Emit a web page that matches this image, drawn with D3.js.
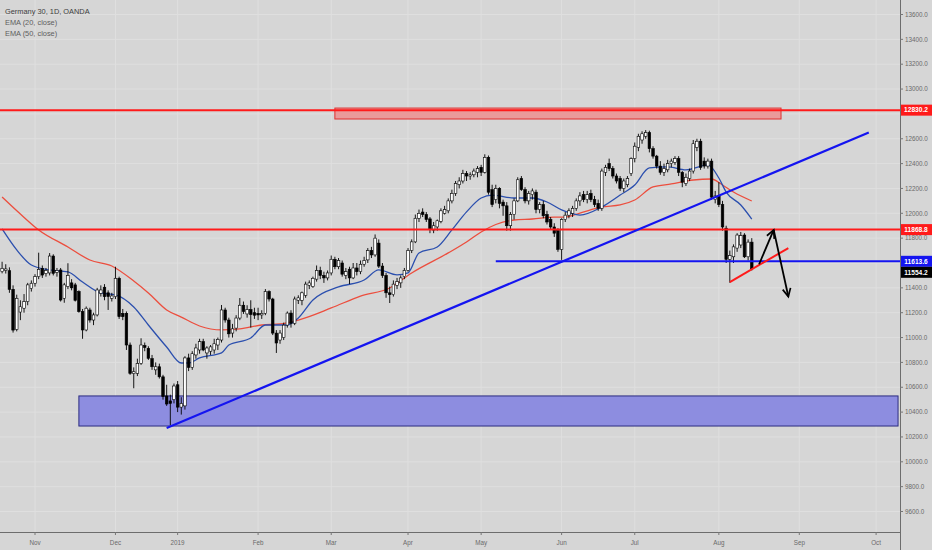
<!DOCTYPE html>
<html><head><meta charset="utf-8">
<script src="https://cdn.jsdelivr.net/npm/d3@7"></script>
<style>
html,body{margin:0;padding:0;background:#d6d6d6;}
svg{display:block;font-family:"Liberation Sans",Arial,sans-serif;}
</style>
</head><body>
<svg id="chart" width="932" height="550"></svg>
<script>
// ---------- DATA ----------
const titleLines = ["Germany 30, 1D, OANDA", "EMA (20, close)", "EMA (50, close)"];
const priceTicks = [9600,9800,10000,10200,10400,10600,10800,11000,11200,11400,11600,11800,12000,12200,12400,12600,12800,13000,13200,13400,13600];
const monthTicks = [["2018-11-01","Nov"],["2018-12-03","Dec"],["2019-01-02","2019"],["2019-02-01","Feb"],["2019-03-01","Mar"],["2019-04-01","Apr"],["2019-05-02","May"],["2019-06-03","Jun"],["2019-07-01","Jul"],["2019-08-01","Aug"],["2019-09-02","Sep"],["2019-10-01","Oct"]];
const calendarStart = "2018-10-19", calendarEnd = "2019-10-10";
const holidays = ["2018-12-24","2018-12-25","2018-12-26","2018-12-31","2019-01-01","2019-04-19","2019-04-22","2019-05-01"];

// date, open, high, low, close
const ohlc = [
["2018-10-19",11530,11610,11517,11557],["2018-10-22",11540,11590,11515,11552],["2018-10-23",11538,11565,11360,11388],
["2018-10-24",11388,11420,11040,11060],["2018-10-25",11065,11345,11050,11316],["2018-10-26",11205,11300,11140,11248],
["2018-10-29",11236,11350,11200,11289],["2018-10-30",11289,11440,11260,11424],["2018-10-31",11395,11460,11370,11437],
["2018-11-01",11437,11510,11410,11490],["2018-11-02",11490,11683,11470,11549],["2018-11-05",11557,11580,11480,11503],
["2018-11-06",11515,11560,11490,11540],["2018-11-07",11520,11680,11500,11656],["2018-11-08",11656,11670,11500,11517],
["2018-11-09",11525,11560,11490,11540],["2018-11-12",11544,11560,11290,11302],["2018-11-13",11316,11440,11280,11424],
["2018-11-14",11410,11598,11390,11500],["2018-11-15",11440,11470,11380,11400],["2018-11-16",11424,11440,11290,11300],
["2018-11-19",11370,11380,11200,11209],["2018-11-20",11209,11230,10990,11061],["2018-11-21",11061,11250,11050,11236],
["2018-11-22",11222,11240,11120,11141],["2018-11-23",11141,11200,11100,11182],["2018-11-26",11182,11400,11170,11383],
["2018-11-27",11356,11420,11330,11383],["2018-11-28",11405,11430,11300,11329],["2018-11-29",11360,11380,11222,11330],
["2018-11-30",11316,11360,11290,11335],["2018-12-03",11329,11570,11310,11477],["2018-12-04",11477,11490,11150,11168],
["2018-12-05",11195,11230,11140,11168],["2018-12-06",11195,11210,10900,10940],["2018-12-07",10940,10960,10700,10712],
["2018-12-10",10710,10760,10592,10725],["2018-12-11",10712,10830,10690,10792],["2018-12-12",10792,10994,10780,10940],
["2018-12-13",10935,10960,10890,10920],["2018-12-14",10913,10930,10820,10833],["2018-12-17",10830,10860,10740,10765],
["2018-12-18",10740,10800,10700,10765],["2018-12-19",10765,10790,10670,10684],["2018-12-20",10684,10700,10500,10524],
["2018-12-21",10530,10620,10450,10465],["2018-12-27",10490,10540,10296,10470],["2018-12-28",10500,10630,10470,10610],
["2019-01-02",10620,10650,10400,10440],["2019-01-03",10440,10520,10380,10470],["2019-01-04",10450,10850,10420,10836],
["2019-01-07",10836,10870,10730,10760],["2019-01-08",10760,10890,10740,10870],["2019-01-09",10860,10950,10830,10916],
["2019-01-10",10900,10990,10870,10967],["2019-01-11",10967,10990,10890,10900],["2019-01-14",10876,10930,10830,10916],
["2019-01-15",10890,10940,10860,10925],["2019-01-16",10900,10990,10870,10950],["2019-01-17",10940,11000,10900,10985],
["2019-01-18",10980,11262,10960,11222],["2019-01-21",11222,11240,11120,11141],["2019-01-22",11141,11160,11000,11030],
["2019-01-23",11036,11110,11000,11070],["2019-01-24",11076,11180,11050,11157],["2019-01-25",11157,11318,11140,11260],
["2019-01-28",11260,11290,11190,11210],["2019-01-29",11190,11260,11160,11225],["2019-01-30",11225,11300,11080,11185],
["2019-01-31",11200,11240,11150,11180],["2019-02-01",11195,11240,11140,11182],["2019-02-04",11182,11220,11150,11195],
["2019-02-05",11195,11390,11180,11370],["2019-02-06",11370,11380,11290,11310],["2019-02-07",11310,11320,11020,11036],
["2019-02-08",11036,11060,10876,10956],["2019-02-11",10980,11060,10950,11036],["2019-02-12",11000,11120,10980,11100],
["2019-02-13",11100,11210,11080,11197],["2019-02-14",11197,11220,11080,11115],["2019-02-15",11115,11330,11100,11310],
["2019-02-18",11300,11340,11270,11320],["2019-02-19",11300,11370,11260,11360],["2019-02-20",11340,11450,11320,11430],
["2019-02-21",11420,11460,11390,11440],["2019-02-22",11410,11490,11400,11477],["2019-02-25",11470,11580,11450,11540],
["2019-02-26",11540,11570,11470,11500],["2019-02-27",11500,11530,11440,11480],["2019-02-28",11480,11540,11460,11520],
["2019-03-01",11520,11660,11500,11630],["2019-03-04",11630,11650,11550,11570],["2019-03-05",11570,11640,11550,11620],
["2019-03-06",11600,11620,11490,11510],["2019-03-07",11500,11560,11470,11530],["2019-03-08",11550,11570,11430,11480],
["2019-03-11",11480,11600,11470,11560],["2019-03-12",11560,11600,11500,11530],["2019-03-13",11530,11620,11510,11590],
["2019-03-14",11590,11650,11570,11620],["2019-03-15",11625,11720,11600,11700],["2019-03-18",11700,11730,11640,11665],
["2019-03-19",11665,11830,11650,11800],["2019-03-20",11760,11790,11560,11575],["2019-03-21",11575,11600,11480,11500],
["2019-03-22",11500,11520,11320,11360],["2019-03-25",11360,11410,11278,11345],["2019-03-26",11345,11460,11330,11430],
["2019-03-27",11420,11480,11390,11450],["2019-03-28",11440,11500,11400,11480],["2019-03-29",11490,11560,11470,11540],
["2019-04-01",11540,11720,11530,11700],["2019-04-02",11700,11790,11680,11770],["2019-04-03",11770,11990,11760,11960],
["2019-04-04",11960,12030,11930,12000],["2019-04-05",12010,12040,11970,11990],["2019-04-08",11990,12010,11930,11950],
["2019-04-09",11955,11970,11840,11870],["2019-04-10",11865,11930,11840,11900],["2019-04-11",11890,11950,11860,11940],
["2019-04-12",11935,12040,11920,12020],["2019-04-15",12000,12060,11990,12030],["2019-04-16",12020,12120,12000,12100],
["2019-04-17",12100,12190,12080,12160],["2019-04-18",12160,12260,12140,12240],["2019-04-23",12230,12290,12200,12260],
["2019-04-24",12260,12350,12240,12320],["2019-04-25",12320,12340,12260,12300],["2019-04-26",12300,12330,12270,12310],
["2019-04-29",12310,12360,12290,12340],["2019-04-30",12330,12380,12290,12360],["2019-05-02",12370,12390,12300,12330],
["2019-05-03",12330,12475,12320,12450],["2019-05-06",12450,12465,12150,12170],["2019-05-07",12190,12230,12050,12070],
["2019-05-08",12110,12230,12080,12200],["2019-05-09",12200,12210,12040,12080],["2019-05-10",12090,12110,11980,12060],
["2019-05-13",12060,12090,11860,11900],["2019-05-14",11900,12010,11860,11990],["2019-05-15",11990,12120,11950,12100],
["2019-05-16",12100,12290,12090,12270],["2019-05-17",12280,12300,12180,12190],["2019-05-20",12190,12210,12080,12100],
["2019-05-21",12100,12180,12070,12160],["2019-05-22",12150,12200,12110,12180],["2019-05-23",12170,12190,12000,12030],
["2019-05-24",12030,12090,12000,12070],["2019-05-27",12070,12100,11960,11980],["2019-05-28",11990,12020,11910,11930],
["2019-05-29",11950,11970,11870,11890],["2019-05-30",11890,11920,11810,11840],["2019-05-31",11860,11880,11690,11710],
["2019-06-03",11710,11960,11625,11950],["2019-06-04",11950,12010,11930,11985],["2019-06-05",11985,12040,11960,12020],
["2019-06-06",12000,12060,11970,12040],["2019-06-07",12040,12120,12020,12100],["2019-06-10",12100,12170,12060,12140],
["2019-06-11",12150,12180,12090,12110],["2019-06-12",12110,12180,12080,12150],["2019-06-13",12160,12190,12090,12110],
["2019-06-14",12110,12140,12050,12070],["2019-06-17",12080,12110,12020,12040],["2019-06-18",12040,12360,12020,12340],
["2019-06-19",12330,12390,12300,12370],["2019-06-20",12400,12440,12340,12360],["2019-06-21",12360,12380,12280,12300],
["2019-06-24",12300,12320,12240,12260],["2019-06-25",12280,12300,12180,12200],["2019-06-26",12200,12280,12170,12260],
["2019-06-27",12230,12300,12210,12280],["2019-06-28",12320,12450,12300,12440],["2019-07-01",12440,12570,12410,12540],
["2019-07-02",12530,12640,12500,12620],["2019-07-03",12590,12660,12560,12640],["2019-07-04",12620,12670,12600,12650],
["2019-07-05",12650,12665,12490,12520],["2019-07-08",12520,12540,12440,12460],["2019-07-09",12460,12470,12360,12380],
["2019-07-10",12380,12420,12310,12330],["2019-07-11",12330,12400,12300,12360],["2019-07-12",12350,12430,12330,12400],
["2019-07-15",12400,12440,12370,12420],["2019-07-16",12410,12460,12390,12440],["2019-07-17",12440,12460,12300,12330],
["2019-07-18",12330,12340,12210,12250],["2019-07-19",12240,12320,12220,12290],["2019-07-22",12280,12360,12260,12340],
["2019-07-23",12340,12590,12320,12560],["2019-07-24",12530,12600,12500,12580],["2019-07-25",12580,12600,12350,12370],
["2019-07-26",12420,12450,12360,12380],["2019-07-29",12380,12440,12360,12420],["2019-07-30",12420,12440,12110,12130],
["2019-07-31",12110,12180,12080,12140],["2019-08-01",12140,12250,12050,12070],["2019-08-02",12070,12100,11860,11890],
["2019-08-05",11880,11900,11600,11630],["2019-08-06",11630,11700,11441,11660],["2019-08-07",11650,11750,11600,11730],
["2019-08-08",11720,11840,11690,11825],["2019-08-09",11745,11850,11720,11820],["2019-08-12",11825,11840,11640,11650],
["2019-08-13",11650,11790,11620,11768],["2019-08-14",11768,11800,11540,11554]
];

// EMA values
const ema20 = [["2018-10-19",11874],["2018-10-25",11705],["2018-10-31",11584],["2018-11-07",11544],["2018-11-14",11528],
["2018-11-20",11447],["2018-11-27",11359],["2018-12-03",11343],["2018-12-10",11246],["2018-12-14",11101],["2018-12-21",10924],
["2019-01-03",10795],["2019-01-07",10795],["2019-01-10",10836],["2019-01-18",10876],["2019-01-22",10940],["2019-01-30",10996],
["2019-02-05",11101],["2019-02-13",11101],["2019-02-18",11157],["2019-02-22",11302],["2019-03-05",11407],["2019-03-14",11463],
["2019-03-20",11544],["2019-03-27",11504],["2019-04-01",11520],["2019-04-04",11681],["2019-04-11",11729],["2019-04-17",11866],
["2019-04-25",12011],["2019-05-02",12123],["2019-05-07",12147],["2019-05-15",12123],["2019-05-22",12123],["2019-05-28",12091],
["2019-06-03",12027],["2019-06-10",11986],["2019-06-18",12051],["2019-06-25",12147],["2019-07-01",12228],["2019-07-05",12365],
["2019-07-12",12373],["2019-07-19",12349],["2019-07-29",12389],["2019-08-01",12284],["2019-08-05",12171],["2019-08-09",12067],
["2019-08-14",11954]];
const ema50 = [["2018-10-19",12131],["2018-10-26",11994],["2018-11-02",11866],["2018-11-14",11729],["2018-11-22",11624],
["2018-11-30",11576],["2018-12-10",11455],["2018-12-14",11359],["2018-12-21",11222],["2019-01-03",11165],["2019-01-10",11093],
["2019-01-18",11061],["2019-01-25",11069],["2019-02-04",11101],["2019-02-11",11109],["2019-02-18",11141],["2019-03-01",11238],
["2019-03-13",11334],["2019-03-25",11399],["2019-04-02",11520],["2019-04-16",11681],["2019-04-25",11769],["2019-05-02",11850],
["2019-05-08",11910],["2019-05-15",11946],["2019-05-22",11954],["2019-05-30",11970],["2019-06-04",11970],["2019-06-10",12002],
["2019-06-18",12051],["2019-06-25",12067],["2019-07-01",12107],["2019-07-08",12212],["2019-07-15",12236],["2019-07-23",12268],
["2019-07-30",12276],["2019-08-02",12228],["2019-08-07",12171],["2019-08-14",12099]];

// drawings
const redLevels = [12830.2, 11868.8];
const blueLevel = {from: "2019-05-08", price: 11613.6};
const lastPrice = 11554.2;
const redZone = {from: "2019-03-04", to: "2019-08-26", top: 12847, bottom: 12759};
const blueZone = {from: "2018-11-19", to: "2019-10-09", top: 10530, bottom: 10288};
const blueTrend = [["2018-12-21", 10272], ["2019-09-27", 12650]];
const redTrend = [["2019-08-06", 11447], ["2019-08-28", 11720]];
const arrowPts = [["2019-08-16", 11590], ["2019-08-22", 11866], ["2019-08-28", 11330]];

// ---------- CHART ----------
const W = 932, H = 550, plotR = 900, plotB = 532;
const fmt = d3.timeFormat("%Y-%m-%d"), parse = d3.timeParse("%Y-%m-%d");
const calendar = d3.timeDay.range(parse(calendarStart), d3.timeDay.offset(parse(calendarEnd), 1))
  .filter(d => d.getDay() !== 0 && d.getDay() !== 6)
  .map(fmt).filter(s => !holidays.includes(s));

const x = d3.scalePoint().domain(calendar).range([2.1, 901.7]);
const y = d3.scaleLinear().domain([9600, 13600]).range([511.5, 14.5]);

const svg = d3.select("#chart");
svg.append("rect").attr("width", W).attr("height", H).attr("fill", "#d6d6d6");
const defs = svg.append("defs");
defs.append("clipPath").attr("id", "clip")
  .append("rect").attr("x", 0).attr("y", 0).attr("width", plotR).attr("height", plotB);
defs.append("marker").attr("id", "ah").attr("viewBox", "-10 -6 12 12")
  .attr("markerWidth", 12).attr("markerHeight", 12).attr("markerUnits", "userSpaceOnUse")
  .attr("refX", 0).attr("refY", 0).attr("orient", "auto")
  .append("path").attr("d", "M-8,-4 L0,0 L-8,4").attr("fill", "none")
  .attr("stroke", "#000").attr("stroke-width", 1.7);

const plot = svg.append("g").attr("clip-path", "url(#clip)");

// grid
plot.append("g").selectAll("line").data(priceTicks).join("line")
  .attr("x1", 0).attr("x2", plotR).attr("y1", d => y(d)).attr("y2", d => y(d))
  .attr("stroke", "#dfdfdf").attr("stroke-width", 1);
plot.append("g").selectAll("line").data(monthTicks).join("line")
  .attr("x1", d => x(d[0])).attr("x2", d => x(d[0])).attr("y1", 0).attr("y2", plotB)
  .attr("stroke", "#dfdfdf").attr("stroke-width", 1);

// zones
plot.append("rect").attr("x", x(blueZone.from)).attr("width", x(blueZone.to) - x(blueZone.from))
  .attr("y", y(blueZone.top)).attr("height", y(blueZone.bottom) - y(blueZone.top))
  .attr("fill", "#8d8de0").attr("stroke", "#2c2c80").attr("stroke-width", 1);
plot.append("rect").attr("x", x(redZone.from)).attr("width", x(redZone.to) - x(redZone.from))
  .attr("y", y(redZone.top)).attr("height", y(redZone.bottom) - y(redZone.top))
  .attr("fill", "#ea9a9a").attr("stroke", "#e03030").attr("stroke-width", 1);

// EMA lines
const emaLine = d3.line().x(d => x(d[0])).y(d => y(d[1])).curve(d3.curveMonotoneX);
plot.append("path").datum(ema50).attr("d", emaLine).attr("fill", "none")
  .attr("stroke", "#ec4e3e").attr("stroke-width", 1.3);
plot.append("path").datum(ema20).attr("d", emaLine).attr("fill", "none")
  .attr("stroke", "#2b4fae").attr("stroke-width", 1.3);

// candles
const candles = ohlc.map(([date, open, high, low, close]) => ({date, open, high, low, close}));
const bw = 2.6;
const cg = plot.append("g").selectAll("g").data(candles).join("g");
cg.append("line")
  .attr("x1", d => x(d.date)).attr("x2", d => x(d.date))
  .attr("y1", d => y(d.high)).attr("y2", d => y(d.low))
  .attr("stroke", "#000").attr("stroke-width", 0.9);
cg.append("rect")
  .attr("x", d => x(d.date) - bw / 2).attr("width", bw)
  .attr("y", d => y(Math.max(d.open, d.close)))
  .attr("height", d => Math.max(0.8, Math.abs(y(d.open) - y(d.close))))
  .attr("fill", d => d.close >= d.open ? "#ffffff" : "#000000")
  .attr("stroke", "#000").attr("stroke-width", 0.6);

// horizontal levels
plot.append("g").selectAll("line").data(redLevels).join("line")
  .attr("x1", 0).attr("x2", plotR).attr("y1", d => y(d)).attr("y2", d => y(d))
  .attr("stroke", "#ff1a1a").attr("stroke-width", 2);
plot.append("line").attr("x1", x(blueLevel.from)).attr("x2", plotR)
  .attr("y1", y(blueLevel.price)).attr("y2", y(blueLevel.price))
  .attr("stroke", "#1414f0").attr("stroke-width", 2);

// trend lines
plot.append("line").attr("x1", x(blueTrend[0][0])).attr("y1", y(blueTrend[0][1]))
  .attr("x2", x(blueTrend[1][0])).attr("y2", y(blueTrend[1][1]))
  .attr("stroke", "#1414f0").attr("stroke-width", 2.2);
plot.append("line").attr("x1", x(redTrend[0][0])).attr("y1", y(redTrend[0][1]))
  .attr("x2", x(redTrend[1][0])).attr("y2", y(redTrend[1][1]))
  .attr("stroke", "#ff1a1a").attr("stroke-width", 2);

// arrows
for (let i = 0; i < arrowPts.length - 1; i++) {
  plot.append("line")
    .attr("x1", x(arrowPts[i][0])).attr("y1", y(arrowPts[i][1]))
    .attr("x2", x(arrowPts[i + 1][0])).attr("y2", y(arrowPts[i + 1][1]))
    .attr("stroke", "#000").attr("stroke-width", 1.8).attr("marker-end", "url(#ah)");
}

// axes
svg.append("line").attr("x1", 0).attr("x2", plotR).attr("y1", plotB + 0.5).attr("y2", plotB + 0.5)
  .attr("stroke", "#6d6d6d").attr("stroke-width", 1);
svg.append("line").attr("x1", plotR + 0.5).attr("x2", plotR + 0.5).attr("y1", 0).attr("y2", H)
  .attr("stroke", "#6d6d6d").attr("stroke-width", 1);

// price labels (stacked so they do not overlap)
const labelH = 11;
const priceLabels = [
  {p: redLevels[0], bg: "#ff1a1a"},
  {p: redLevels[1], bg: "#ff1a1a"},
  {p: blueLevel.price, bg: "#1414f0"},
  {p: lastPrice, bg: "#000000"}
].sort((a, b) => y(a.p) - y(b.p));
let prevBottom = -Infinity;
priceLabels.forEach(d => {
  d.cy = Math.max(y(d.p), prevBottom + labelH / 2);
  prevBottom = d.cy + labelH / 2;
});

// y tick labels, skipping ones hidden under a price label
const visibleTicks = priceTicks.filter(t => priceLabels.every(l => Math.abs(y(t) - l.cy) > labelH / 2 + 2));
const yAx = svg.append("g");
yAx.selectAll("line").data(priceTicks).join("line")
  .attr("x1", plotR).attr("x2", plotR + 3).attr("y1", d => y(d)).attr("y2", d => y(d))
  .attr("stroke", "#777");
yAx.selectAll("text").data(visibleTicks).join("text")
  .attr("x", plotR + 5).attr("y", d => y(d)).attr("dy", "0.35em")
  .attr("font-size", 6.3).attr("fill", "#6a6a6a").text(d => d.toFixed(1));

const xAx = svg.append("g");
xAx.selectAll("line").data(monthTicks).join("line")
  .attr("x1", d => x(d[0])).attr("x2", d => x(d[0])).attr("y1", plotB).attr("y2", plotB + 3)
  .attr("stroke", "#777");
xAx.selectAll("text").data(monthTicks).join("text")
  .attr("x", d => x(d[0])).attr("y", plotB + 12.5).attr("text-anchor", "middle")
  .attr("font-size", 6.3).attr("fill", "#6a6a6a").text(d => d[1]);

const pl = svg.append("g").selectAll("g").data(priceLabels).join("g");
pl.append("rect").attr("x", plotR + 1).attr("width", W - plotR - 1)
  .attr("y", d => d.cy - labelH / 2).attr("height", labelH).attr("fill", d => d.bg);
pl.append("text").attr("x", plotR + 16).attr("y", d => d.cy).attr("dy", "0.35em")
  .attr("text-anchor", "middle").attr("font-size", 6.6).attr("font-weight", "bold")
  .attr("fill", "#fff").text(d => d.p.toFixed(1));

// legend
svg.append("g").selectAll("text").data(titleLines).join("text")
  .attr("x", 5).attr("y", (d, i) => 14 + i * 11)
  .attr("font-size", 7.4).attr("fill", (d, i) => i === 0 ? "#3e3e3e" : "#5e5e5e")
  .text(d => d);
</script>
</body></html>
